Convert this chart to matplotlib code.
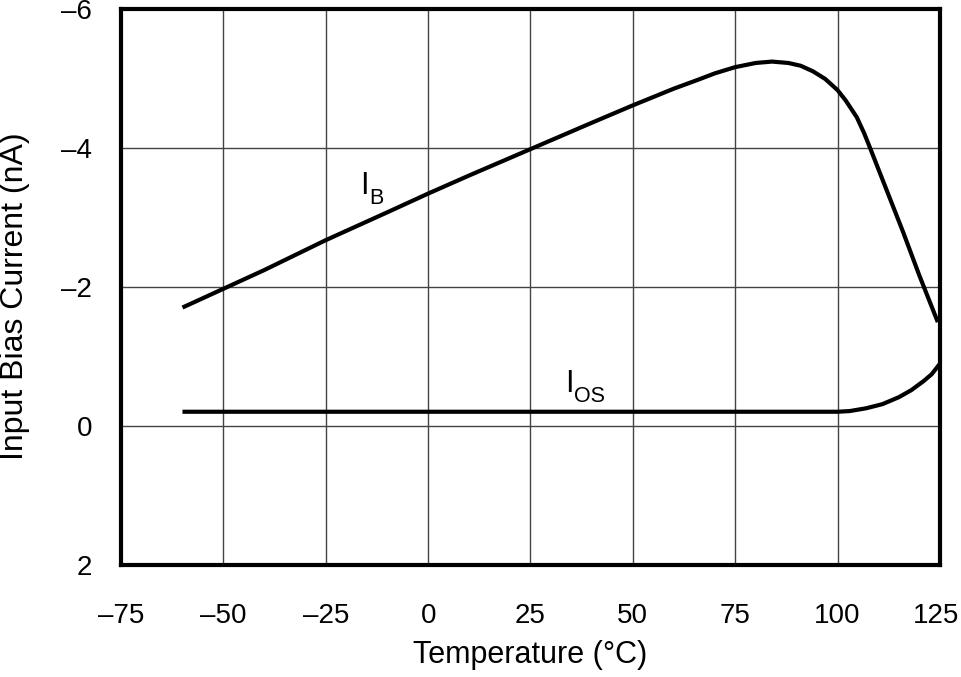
import matplotlib
matplotlib.use("Agg")
import matplotlib.pyplot as plt
from matplotlib.transforms import ScaledTranslation

plt.rcParams['font.family'] = ['Liberation Sans', 'DejaVu Sans']

ib_temp = [-60, -50, -40, -25, -10, 0, 10, 25, 40, 50, 60, 66, 70, 75, 80, 84, 88, 91, 94, 97,
           100, 102, 104.7, 106.5, 108, 112, 116, 120, 124.5]
ib_vals = [-1.71, -1.98, -2.25, -2.68, -3.08, -3.35, -3.61, -3.99, -4.37, -4.62, -4.86, -4.99,
           -5.08, -5.17, -5.23, -5.25, -5.23, -5.19, -5.11, -5.00, -4.84, -4.69, -4.45, -4.22,
           -4.0, -3.40, -2.80, -2.17, -1.50]
ios_temp = [-60, 100, 103, 107, 111, 115, 118, 121, 123, 125]
ios_vals = [-0.21, -0.21, -0.22, -0.26, -0.32, -0.42, -0.52, -0.65, -0.75, -0.90]

xticks = [-75, -50, -25, 0, 25, 50, 75, 100, 125]
yticks = [-6, -4, -2, 0, 2]

fig = plt.figure(figsize=(9.61, 6.77), dpi=100)
ax = fig.add_axes([0.126, 0.165, 0.852, 0.821])
ax.plot(ib_temp, ib_vals, color='black', lw=3, solid_capstyle='butt', zorder=3)
ax.plot(ios_temp, ios_vals, color='black', lw=3, solid_capstyle='butt', zorder=3)

ax.set_xlim(-75, 125)
ax.set_ylim(2, -6)
ax.set_xticks(xticks)
ax.set_yticks(yticks)
ax.set_xticklabels([str(t).replace('-', '\u2013') for t in xticks])
ax.set_yticklabels([str(t).replace('-', '\u2013') for t in yticks])
ax.tick_params(length=0, labelsize=20)
ax.tick_params(axis='x', pad=27)
ax.tick_params(axis='y', pad=21)
ax.grid(True, color='#444444', lw=1)
for s in ax.spines.values():
    s.set_linewidth(3)
ax.set_xlabel('Temperature (\u00b0C)', fontsize=22, labelpad=8)
ax.set_ylabel('Input Bias Current (nA)', fontsize=23)
ax.yaxis.set_label_coords(-0.111, 0.484)

# keep the last x tick label inside the canvas
last = ax.xaxis.get_major_ticks()[-1].label1
last.set_transform(last.get_transform() + ScaledTranslation(-0.04, 0, fig.dpi_scale_trans))

# curve labels: main letter plus offset subscript
def label(x, y, main, sub, dx):
    ax.text(x, y, main, fontsize=22, ha='left', va='baseline')
    ax.annotate(sub, (x, y), xytext=(dx, -10), textcoords='offset pixels',
                fontsize=15.5, ha='left', va='baseline')

label(-16.5, -3.34, 'I', 'B', 9)
label(33.5, -0.49, 'I', 'OS', 9)

fig.savefig('out.png', dpi=100)
